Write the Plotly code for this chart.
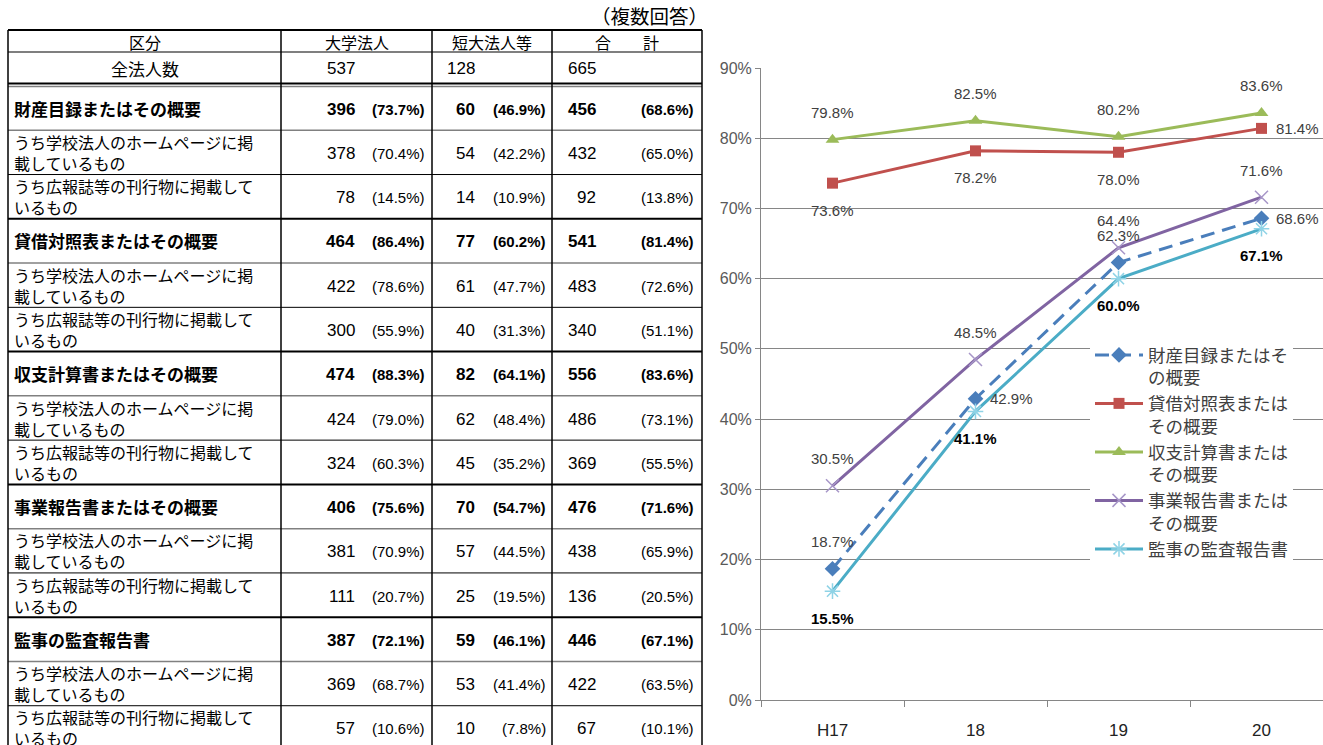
import plotly.graph_objects as go

# ---------------- data ----------------
years = ["H17", "18", "19", "20"]
legend_names = ["財産目録またはそ<br>の概要", "貸借対照表または<br>その概要", "収支計算書または<br>その概要",
                "事業報告書または<br>その概要", "監事の監査報告書"]
zaisan = [18.7, 42.9, 62.3, 68.6]
taishaku = [73.6, 78.2, 78.0, 81.4]
shushi = [79.8, 82.5, 80.2, 83.6]
jigyo = [30.5, 48.5, 64.4, 71.6]
kanji = [15.5, 41.1, 60.0, 67.1]
y_ticks = [0, 10, 20, 30, 40, 50, 60, 70, 80, 90]
y_tick_labels = ["0%", "10%", "20%", "30%", "40%", "50%", "60%", "70%", "80%", "90%"]

note_text = "（複数回答）"
table_header = ["区分", "大学法人", "短大法人等", "合　　計"]
total_label = "全法人数"
total_corp = [537, 128, 665]
row_labels = [
    "財産目録またはその概要", "うち学校法人のホームページに掲<br>載しているもの", "うち広報誌等の刊行物に掲載して<br>いるもの",
    "貸借対照表またはその概要", "うち学校法人のホームページに掲<br>載しているもの", "うち広報誌等の刊行物に掲載して<br>いるもの",
    "収支計算書またはその概要", "うち学校法人のホームページに掲<br>載しているもの", "うち広報誌等の刊行物に掲載して<br>いるもの",
    "事業報告書またはその概要", "うち学校法人のホームページに掲<br>載しているもの", "うち広報誌等の刊行物に掲載して<br>いるもの",
    "監事の監査報告書", "うち学校法人のホームページに掲<br>載しているもの", "うち広報誌等の刊行物に掲載して<br>いるもの",
]
univ_n = [396, 378, 78, 464, 422, 300, 474, 424, 324, 406, 381, 111, 387, 369, 57]
univ_p = [73.7, 70.4, 14.5, 86.4, 78.6, 55.9, 88.3, 79.0, 60.3, 75.6, 70.9, 20.7, 72.1, 68.7, 10.6]
junior_n = [60, 54, 14, 77, 61, 40, 82, 62, 45, 70, 57, 25, 59, 53, 10]
junior_p = [46.9, 42.2, 10.9, 60.2, 47.7, 31.3, 64.1, 48.4, 35.2, 54.7, 44.5, 19.5, 46.1, 41.4, 7.8]
total_n = [456, 432, 92, 541, 483, 340, 556, 486, 369, 476, 438, 136, 446, 422, 67]
total_p = [68.6, 65.0, 13.8, 81.4, 72.6, 51.1, 83.6, 73.1, 55.5, 71.6, 65.9, 20.5, 67.1, 63.5, 10.1]

# ---------------- styles ----------------
W, H = 1323, 745
JP = "Noto Sans CJK JP"
NUM = "Liberation Sans, Arial, Noto Sans CJK JP"
LAT = "Liberation Sans, Arial, Noto Sans CJK JP"
GRID = "#868686"

series = [
    dict(y=zaisan, color="#4a7ebb", dash="14px,8px", symbol="diamond", msize=12, mcolor="#4a7ebb", open=False,
         pos=["top", "right", "top", "right"], bold=False),
    dict(y=taishaku, color="#c0504d", dash="solid", symbol="square", msize=11, mcolor="#c0504d", open=False,
         pos=["bottom", "bottom", "bottom", "right"], bold=False),
    dict(y=shushi, color="#9bbb59", dash="solid", symbol="triangle-up", msize=12, mcolor="#9bbb59", open=False,
         pos=["top", "top", "top", "top"], bold=False),
    dict(y=jigyo, color="#8064a2", dash="solid", symbol="x-thin-open", msize=13, mcolor="#a796c8", open=True,
         pos=["top", "top", "top", "top"], bold=False),
    dict(y=kanji, color="#4bacc6", dash="solid", symbol="asterisk-open", msize=13, mcolor="#8fd3e6", open=True,
         pos=["bottom", "bottom", "bottom", "bottom"], bold=True),
]

fig = go.Figure()

for name, s in zip(legend_names, series):
    marker = dict(symbol=s["symbol"], size=s["msize"], color=s["mcolor"])
    if s["open"]:
        marker["line"] = dict(color=s["mcolor"], width=1.5)
    fig.add_trace(go.Scatter(
        x=years, y=s["y"], name=name, mode="lines+markers",
        line=dict(color=s["color"], width=3, dash=s["dash"]),
        marker=marker, cliponaxis=False, xaxis="x", yaxis="y",
    ))

annotations = []
for s in series:
    for j, (yv, p) in enumerate(zip(s["y"], s["pos"])):
        txt = f"{yv:.1f}%"
        fnt = dict(family=LAT, size=15, color="#404040")
        if s["bold"]:
            txt = f"<b>{txt}</b>"
            fnt = dict(family=LAT, size=15, color="#000000")
        a = dict(x=j, y=yv, xref="x", yref="y", text=txt, showarrow=False, font=fnt)
        if p == "top":
            a.update(yshift=27)
        elif p == "bottom":
            a.update(yshift=-27)
        else:
            a.update(xanchor="left", xshift=12)
        annotations.append(a)

# ---------------- table (on a pixel-scaled helper axis pair) ----------------
x_left, x_c1, x_c2, x_c3, x_right = 8, 281, 432, 552, 702
y_top, y_head, y_tot, y_data0 = 30, 52, 84, 86
row_h = (750 - y_data0) / len(row_labels)

def tab(text, x, y, size=17, family=JP, xanchor="center", color="#000", align="center"):
    annotations.append(dict(x=x, y=y, xref="x2", yref="y2", text=text, showarrow=False,
                            xanchor=xanchor, yanchor="middle", borderpad=0, align=align,
                            font=dict(family=family, size=size, color=color)))

tab(note_text, 709, 15.5, size=19.5, xanchor="right")
col_centers = [(x_left + x_c1) / 2, (x_c1 + x_c2) / 2, (x_c2 + x_c3) / 2, (x_c3 + x_right) / 2]
for t, cx in zip(table_header, col_centers):
    tab(t, cx, (y_top + y_head) / 2 + 0.8, size=16)
tab(total_label, col_centers[0], (y_head + y_tot) / 2, size=17)

n_right = [356, 476, 597]
p_right = [426, 547, 695]
for v, xr in zip(total_corp, n_right):
    tab(str(v), xr, (y_head + y_tot) / 2, size=17, family=NUM, xanchor="right")

for i, lab in enumerate(row_labels):
    yc = y_data0 + row_h * (i + 0.5)
    main = (i % 3 == 0)
    if main:
        tab(f"<b>{lab}</b>", 13, yc, size=17, xanchor="left")
    else:
        tab(lab, 13, yc, size=16, xanchor="left", align="left")
    for ns, ps, k in ((univ_n, univ_p, 0), (junior_n, junior_p, 1), (total_n, total_p, 2)):
        nt = str(ns[i])
        pt = f"({ps[i]:.1f}%)"
        if main:
            nt, pt = f"<b>{nt}</b>", f"<b>{pt}</b>"
        tab(nt, n_right[k], yc + 1, size=17, family=NUM, xanchor="right")
        tab(pt, p_right[k], yc + 1, size=15, family=NUM, xanchor="right")

shapes = []
def hline(y, color="#000", width=1.0):
    shapes.append(dict(type="line", xref="x2", yref="y2", x0=x_left, x1=x_right, y0=y, y1=y,
                       line=dict(color=color, width=width)))
def vline(x, width=1.5):
    shapes.append(dict(type="line", xref="x2", yref="y2", x0=x, x1=x, y0=y_top, y1=760,
                       line=dict(color="#000", width=width)))

hline(y_top, width=2)
hline(y_head, width=1.2)
hline(y_tot - 0.5, width=2)
hline(y_data0 + 0.5, color="#808080", width=1.5)
for k in range(1, len(row_labels)):
    yy = y_data0 + row_h * k
    if k % 3 == 0:
        hline(yy, width=2)
    elif k % 3 == 1:
        hline(yy, color="#808080", width=1.5)
    else:
        hline(yy, width=1)
for xv in (x_left, x_c1, x_c2, x_c3, x_right):
    vline(xv)

# ---------------- layout ----------------
fig.update_layout(
    width=W, height=H, autosize=False,
    margin=dict(l=0, r=0, t=0, b=0, pad=0, autoexpand=False),
    paper_bgcolor="white", plot_bgcolor="rgba(0,0,0,0)",
    showlegend=True,
    legend=dict(x=1090 / W, y=1 - 337 / H, xanchor="left", yanchor="top", bgcolor="white",
                font=dict(family=JP, size=17.5, color="#404040"), valign="top",
                itemwidth=48, traceorder="normal", borderwidth=0),
    xaxis=dict(domain=[761 / W, 1], type="category", range=[-0.5, 3.43], tickson="boundaries",
               ticks="outside", ticklen=6, tickcolor=GRID, showline=True, linecolor=GRID, linewidth=1,
               showgrid=False, zeroline=False, ticklabelstandoff=15,
               tickfont=dict(family=LAT, size=17, color="#222"), anchor="y", fixedrange=True),
    yaxis=dict(domain=[(H - 700) / H, (H - 68) / H], range=[0, 90], tickvals=y_ticks, ticktext=y_tick_labels,
               ticks="outside", ticklen=5, tickcolor=GRID, showline=True, linecolor=GRID, linewidth=1,
               showgrid=True, gridcolor=GRID, gridwidth=1, zeroline=False,
               tickfont=dict(family=LAT, size=16, color="#595959"), anchor="x", fixedrange=True),
    xaxis2=dict(domain=[0, 1], range=[0, W], visible=False, anchor="y2", fixedrange=True),
    yaxis2=dict(domain=[0, 1], range=[H, 0], visible=False, anchor="x2", fixedrange=True),
    annotations=annotations,
    shapes=shapes,
)

fig.write_html("out.html", config={"displayModeBar": False},
               post_script="document.body.style.margin='0';document.body.style.overflow='hidden';")
